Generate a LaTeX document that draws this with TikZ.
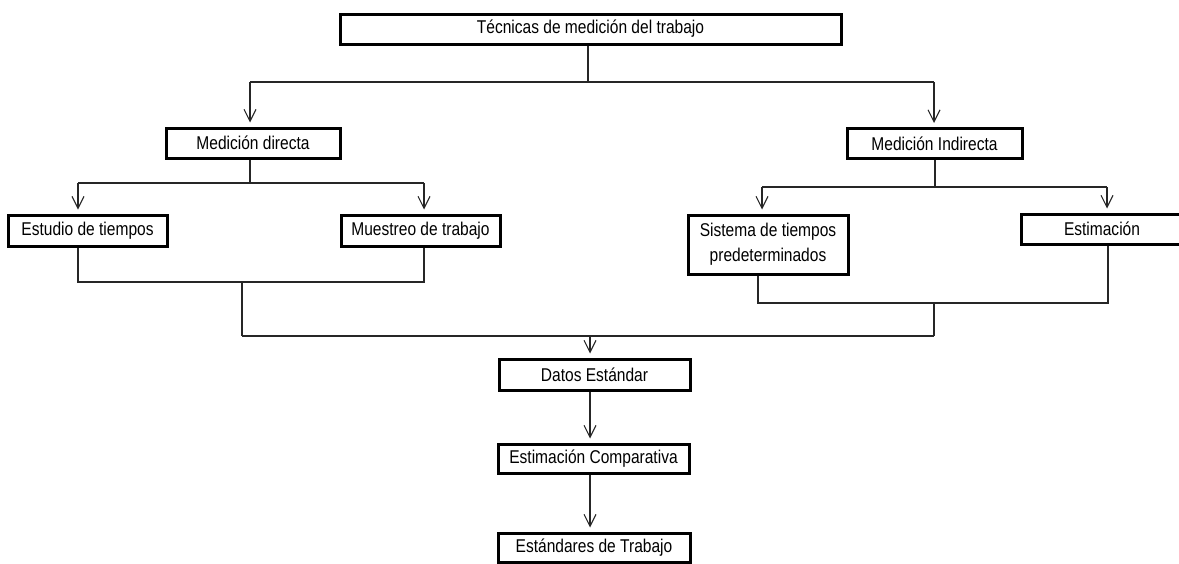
\documentclass[tikz,border=0pt]{standalone}
\usepackage{fontspec}
\setmainfont{Liberation Sans}[FakeStretch=0.84]
\usetikzlibrary{arrows.meta}
\begin{document}
\begin{tikzpicture}[x=1pt,y=-1pt,
  box/.style={draw=black,line width=3pt,inner sep=0pt,align=center,
    font=\fontsize{18.5}{25}\selectfont,minimum height=30pt},
  conn/.style={draw=black!85,line width=1.1pt},
  arr/.style={conn,-{Straight Barb[length=12pt,width=12pt,line width=1.1pt]},shorten >=4pt}]
\useasboundingbox (0,0) rectangle (1179,563);
% nodes
\node[box,minimum width=501pt] (top) at (590.5,29) {Técnicas de medición del trabajo};
\node[box,minimum width=174pt] (md) at (253,143) {Medición directa};
\node[box,minimum width=175pt] (mi) at (934.5,143.5) {Medición Indirecta};
\node[box,minimum width=159pt,minimum height=31pt] (et) at (87.5,230.5) {Estudio de tiempos};
\node[box,minimum width=159pt,minimum height=31pt] (mt) at (420.5,230.5) {Muestreo de trabajo};
\node[box,minimum width=160pt,minimum height=59pt] (st) at (768,244.5) {Sistema de tiempos\\predeterminados};
\node[box,minimum width=162pt] (es) at (1102,229) {Estimación};
\node[box,minimum width=191pt,minimum height=31pt] (ds) at (594.5,374.5) {Datos Estándar};
\node[box,minimum width=191pt,minimum height=29pt] (ec) at (593.5,458.5) {Estimación Comparativa};
\node[box,minimum width=192pt,minimum height=29pt] (sw) at (594,547.5) {Estándares de Trabajo};
% junction coordinates
\coordinate (tC) at (588,82);
\coordinate (tL) at (250,82);
\coordinate (tR) at (934,82);
\coordinate (mdC) at (250,183);
\coordinate (mdL) at (78,183);
\coordinate (mdR) at (424,183);
\coordinate (miC) at (935,187);
\coordinate (miL) at (762,187);
\coordinate (miR) at (1107,187);
\coordinate (bL1) at (78,282);
\coordinate (bR1) at (424,282);
\coordinate (bC1) at (242,282);
\coordinate (bb1) at (242,336);
\coordinate (bL2) at (758,303);
\coordinate (bR2) at (1108,303);
\coordinate (bC2) at (934,303);
\coordinate (bb2) at (934,336);
\coordinate (bM) at (590,336);
% top split
\draw[conn] (top.south -| tC) -- (tC);
\draw[conn] (tL) -- (tR);
\draw[arr] (tL) -- (md.north -| tL);
\draw[arr] (tR) -- (mi.north -| tR);
% direct split
\draw[conn] (md.south -| mdC) -- (mdC);
\draw[conn] (mdL) -- (mdR);
\draw[arr] (mdL) -- (et.north -| mdL);
\draw[arr] (mdR) -- (mt.north -| mdR);
% indirect split
\draw[conn] (mi.south -| miC) -- (miC);
\draw[conn] (miL) -- (miR);
\draw[arr] (miL) -- (st.north -| miL);
\draw[arr] (miR) -- (es.north -| miR);
% merges
\draw[conn] (et.south -| bL1) -- (bL1) -- (bR1) -- (mt.south -| bR1);
\draw[conn] (bC1) -- (bb1);
\draw[conn] (st.south -| bL2) -- (bL2) -- (bR2) -- (es.south -| bR2);
\draw[conn] (bC2) -- (bb2);
\draw[conn] (bb1) -- (bb2);
\draw[arr] (bM) -- (ds.north -| bM);
\draw[arr] (ds.south -| bM) -- (ec.north -| bM);
\draw[arr] (ec.south -| bM) -- (sw.north -| bM);
\end{tikzpicture}
\end{document}
